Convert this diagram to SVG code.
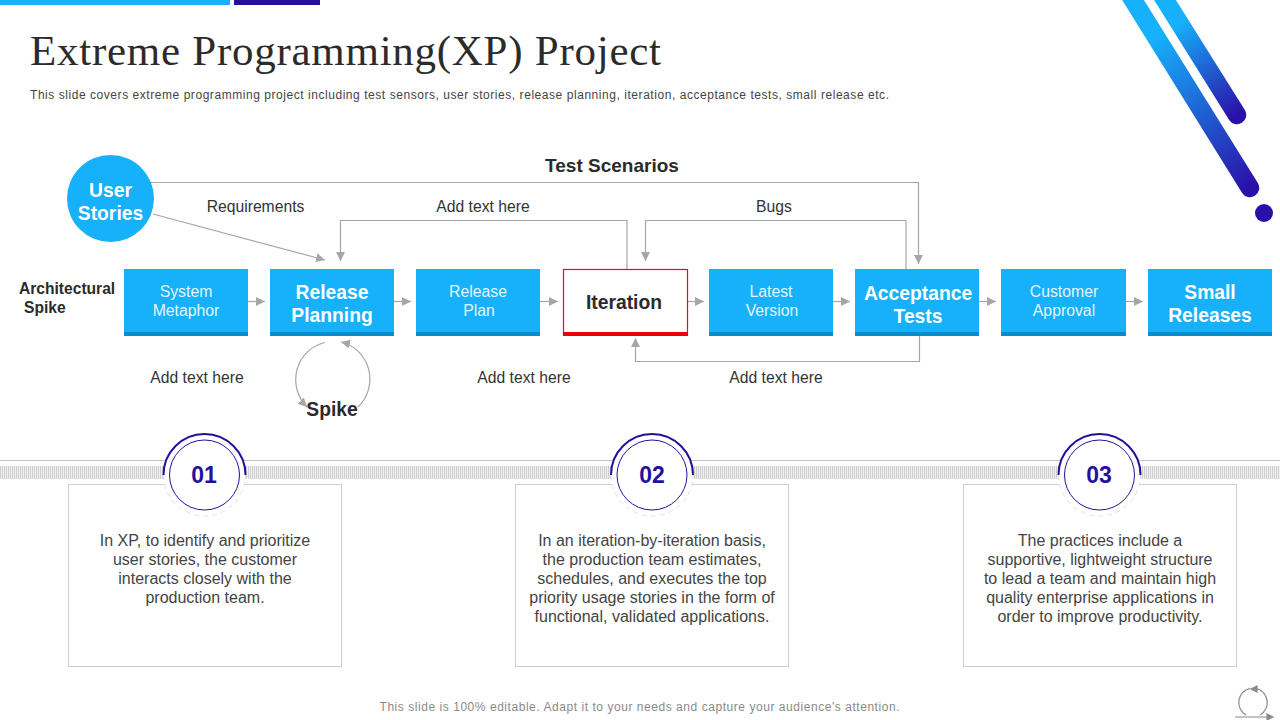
<svg xmlns="http://www.w3.org/2000/svg" width="1280" height="720" viewBox="0 0 1280 720">
<style>
text{font-family:"Liberation Sans",Arial,sans-serif;text-anchor:middle}
.bx{fill:#16b0fb}.bb{fill:#0b8cca}
.lt{fill:#e3f6ff;font-size:15.800px}
.bd{fill:#fff;font-size:19.300px;font-weight:bold}
.lb{fill:#333;font-size:15.700px}
.cn{fill:none;stroke:#a6a6a6;stroke-width:1.200}
.card{fill:#fff;stroke:#cfcfcf;stroke-width:1}
.ct{fill:#444;font-size:16px}
.num{fill:#24109c;font-size:23px;font-weight:bold}
</style>
<defs>
<marker id="ah" markerUnits="userSpaceOnUse" markerWidth="10" markerHeight="10" refX="9" refY="4.500" orient="auto"><path d="M0 0L9 4.500L0 9z" fill="#a6a6a6"/></marker>
<linearGradient id="g1" gradientUnits="userSpaceOnUse" x1="1133" y1="0" x2="1250" y2="188"><stop offset="0.2" stop-color="#16b0fb"/><stop offset="1" stop-color="#2a10a8"/></linearGradient>
<linearGradient id="g2" gradientUnits="userSpaceOnUse" x1="1165" y1="0" x2="1237" y2="115"><stop offset="0.2" stop-color="#16b0fb"/><stop offset="1" stop-color="#2a10a8"/></linearGradient>
<pattern id="st" patternUnits="userSpaceOnUse" width="2" height="14"><rect width="1" height="14" fill="#cfcfcf"/><rect x="1" width="1" height="14" fill="#f0f0f0"/></pattern>
</defs>
<rect width="1280" height="720" fill="#fff"/>
<rect x="0" y="0" width="230" height="5" fill="#16b0fb"/>
<rect x="234" y="0" width="86" height="5" fill="#24109c"/>
<path d="M1120.600 -20L1250 188" fill="none" stroke="url(#g1)" stroke-width="18.500" stroke-linecap="round"/>
<path d="M1152.500 -20L1237 115" fill="none" stroke="url(#g2)" stroke-width="18.500" stroke-linecap="round"/>
<circle cx="1264" cy="213" r="9" fill="#2a10a8"/>
<text x="30" y="65" style="text-anchor:start;font-family:'Liberation Serif',serif;font-size:43px;fill:#2b2b2b" textLength="631">Extreme Programming(XP) Project</text>
<text x="30" y="99" style="text-anchor:start;font-size:12px;fill:#444" textLength="859">This slide covers extreme programming project including test sensors, user stories, release planning, iteration, acceptance tests, small release etc.</text>

<g id="connectors">
<path class="cn" d="M150 182.500H918.500V264" marker-end="url(#ah)"/>
<path class="cn" d="M153 214L325 260" marker-end="url(#ah)"/>
<path class="cn" d="M627 269V220.500H340.500V261" marker-end="url(#ah)"/>
<path class="cn" d="M906 269V220.500H645.500V261" marker-end="url(#ah)"/>
<path class="cn" d="M919.500 336V361.500H635.500V338" marker-end="url(#ah)"/>
<path class="cn" d="M248 301.500H265" marker-end="url(#ah)"/>
<path class="cn" d="M394 301.500H411" marker-end="url(#ah)"/>
<path class="cn" d="M540 301.500H558" marker-end="url(#ah)"/>
<path class="cn" d="M688 301.500H704" marker-end="url(#ah)"/>
<path class="cn" d="M833 301.500H850" marker-end="url(#ah)"/>
<path class="cn" d="M979 301.500H996" marker-end="url(#ah)"/>
<path class="cn" d="M1126 301.500H1143" marker-end="url(#ah)"/>
<path class="cn" d="M325 342.500A37 38 0 0 0 307 407" marker-end="url(#ah)"/>
<path class="cn" d="M358 407A37 38 0 0 0 341 342" marker-end="url(#ah)"/>
</g>

<g id="user-stories"><circle cx="110.500" cy="198.500" r="43.500" fill="#16b0fb"/><text class="bd" x="110.500" y="197">User</text><text class="bd" x="110.500" y="220">Stories</text></g>
<g id="arch-spike"><text x="19" y="294" style="text-anchor:start;font-size:15.600px;font-weight:bold;fill:#2b2b2b">Architectural</text><text x="24" y="313" style="text-anchor:start;font-size:15.600px;font-weight:bold;fill:#2b2b2b">Spike</text></g>
<g id="system-metaphor"><rect class="bx" x="124" y="269" width="124" height="67"/><rect class="bb" x="124" y="332" width="124" height="4"/><text class="lt" x="186" y="297">System</text><text class="lt" x="186" y="316">Metaphor</text></g>
<g id="release-planning"><rect class="bx" x="270" y="269" width="124" height="67"/><rect class="bb" x="270" y="332" width="124" height="4"/><text class="bd" x="332" y="299">Release</text><text class="bd" x="332" y="322">Planning</text></g>
<g id="release-plan"><rect class="bx" x="416" y="269" width="124" height="67"/><rect class="bb" x="416" y="332" width="124" height="4"/><text class="lt" x="478" y="297">Release</text><text class="lt" x="479" y="316">Plan</text></g>
<g id="iteration"><rect x="563.500" y="269.500" width="124" height="65" fill="#fff" stroke="#e0101c" stroke-width="1.200"/><rect x="563" y="332" width="125" height="4" fill="#e8000b"/><text x="624" y="309" style="font-size:19.300px;font-weight:bold;fill:#2b2b2b">Iteration</text></g>
<g id="latest-version"><rect class="bx" x="709" y="269" width="124" height="67"/><rect class="bb" x="709" y="332" width="124" height="4"/><text class="lt" x="771" y="297">Latest</text><text class="lt" x="772" y="316">Version</text></g>
<g id="acceptance-tests"><rect class="bx" x="855" y="269" width="124" height="67"/><rect class="bb" x="855" y="332" width="124" height="4"/><text class="bd" x="918" y="300">Acceptance</text><text class="bd" x="918" y="323">Tests</text></g>
<g id="customer-approval"><rect class="bx" x="1001" y="269" width="125" height="67"/><rect class="bb" x="1001" y="332" width="125" height="4"/><text class="lt" x="1064" y="297">Customer</text><text class="lt" x="1064" y="316">Approval</text></g>
<g id="small-releases"><rect class="bx" x="1148" y="269" width="124" height="67"/><rect class="bb" x="1148" y="332" width="124" height="4"/><text class="bd" x="1210" y="299">Small</text><text class="bd" x="1210" y="322">Releases</text></g>

<g id="labels">
<text x="612" y="172" style="font-size:19px;font-weight:bold;fill:#2b2b2b">Test Scenarios</text>
<text class="lb" x="255.500" y="212">Requirements</text>
<text class="lb" x="483" y="212">Add text here</text>
<text class="lb" x="774" y="212">Bugs</text>
<text class="lb" x="197" y="383">Add text here</text>
<text class="lb" x="524" y="383">Add text here</text>
<text class="lb" x="776" y="383">Add text here</text>
<text x="332" y="416" style="font-size:19.300px;font-weight:bold;fill:#2b2b2b">Spike</text>
</g>

<rect x="0" y="466" width="1280" height="13" fill="url(#st)"/>
<path d="M0 460.500H1280" stroke="#c4c4c4" stroke-width="1"/>

<g id="card-1"><rect class="card" x="68.500" y="484.500" width="273" height="182"/>
<circle cx="204.500" cy="475" r="41" fill="#fff"/><path d="M163.500 475A41 41 0 0 1 245.500 475" fill="none" stroke="#24109c" stroke-width="2"/><path d="M163.500 475A41 41 0 0 0 245.500 475" fill="none" stroke="#e0e0e0" stroke-dasharray="5 4"/><circle cx="204.500" cy="475" r="35" fill="#fff" stroke="#24109c" stroke-width="1"/><text class="num" x="204" y="483">01</text>
<text class="ct" x="205" y="546">In XP, to identify and prioritize</text><text class="ct" x="205" y="565">user stories, the customer</text><text class="ct" x="205" y="584">interacts closely with the</text><text class="ct" x="205" y="603">production team.</text></g>
<g id="card-2"><rect class="card" x="515.500" y="484.500" width="273" height="182"/>
<circle cx="652" cy="475" r="41" fill="#fff"/><path d="M611 475A41 41 0 0 1 693 475" fill="none" stroke="#24109c" stroke-width="2"/><path d="M611 475A41 41 0 0 0 693 475" fill="none" stroke="#e0e0e0" stroke-dasharray="5 4"/><circle cx="652" cy="475" r="35" fill="#fff" stroke="#24109c" stroke-width="1"/><text class="num" x="652" y="483">02</text>
<text class="ct" x="652" y="546">In an iteration-by-iteration basis,</text><text class="ct" x="652" y="565">the production team estimates,</text><text class="ct" x="652" y="584">schedules, and executes the top</text><text class="ct" x="652" y="603">priority usage stories in the form of</text><text class="ct" x="652" y="622">functional, validated applications.</text></g>
<g id="card-3"><rect class="card" x="963.500" y="484.500" width="273" height="182"/>
<circle cx="1099.500" cy="475" r="41" fill="#fff"/><path d="M1058.500 475A41 41 0 0 1 1140.500 475" fill="none" stroke="#24109c" stroke-width="2"/><path d="M1058.500 475A41 41 0 0 0 1140.500 475" fill="none" stroke="#e0e0e0" stroke-dasharray="5 4"/><circle cx="1099.500" cy="475" r="35" fill="#fff" stroke="#24109c" stroke-width="1"/><text class="num" x="1099" y="483">03</text>
<text class="ct" x="1100" y="546">The practices include a</text><text class="ct" x="1100" y="565">supportive, lightweight structure</text><text class="ct" x="1100" y="584">to lead a team and maintain high</text><text class="ct" x="1100" y="603">quality enterprise applications in</text><text class="ct" x="1100" y="622">order to improve productivity.</text></g>

<text x="639.500" y="711" style="font-size:12px;fill:#8a8a8a" textLength="520">This slide is 100% editable. Adapt it to your needs and capture your audience's attention.</text>
<g id="loop-icon" fill="none" stroke="#8a8a8a" stroke-width="1.200"><path d="M1235 717H1268"/><path d="M1267 714L1273 717L1267 720z" fill="#8a8a8a"/><path d="M1250 688.300A14.500 14.500 0 0 0 1246 715"/><path d="M1256 688.300A14.500 14.500 0 0 1 1260 715"/><path d="M1257 686L1251 689L1257 692z" fill="#8a8a8a"/></g>
</svg>
